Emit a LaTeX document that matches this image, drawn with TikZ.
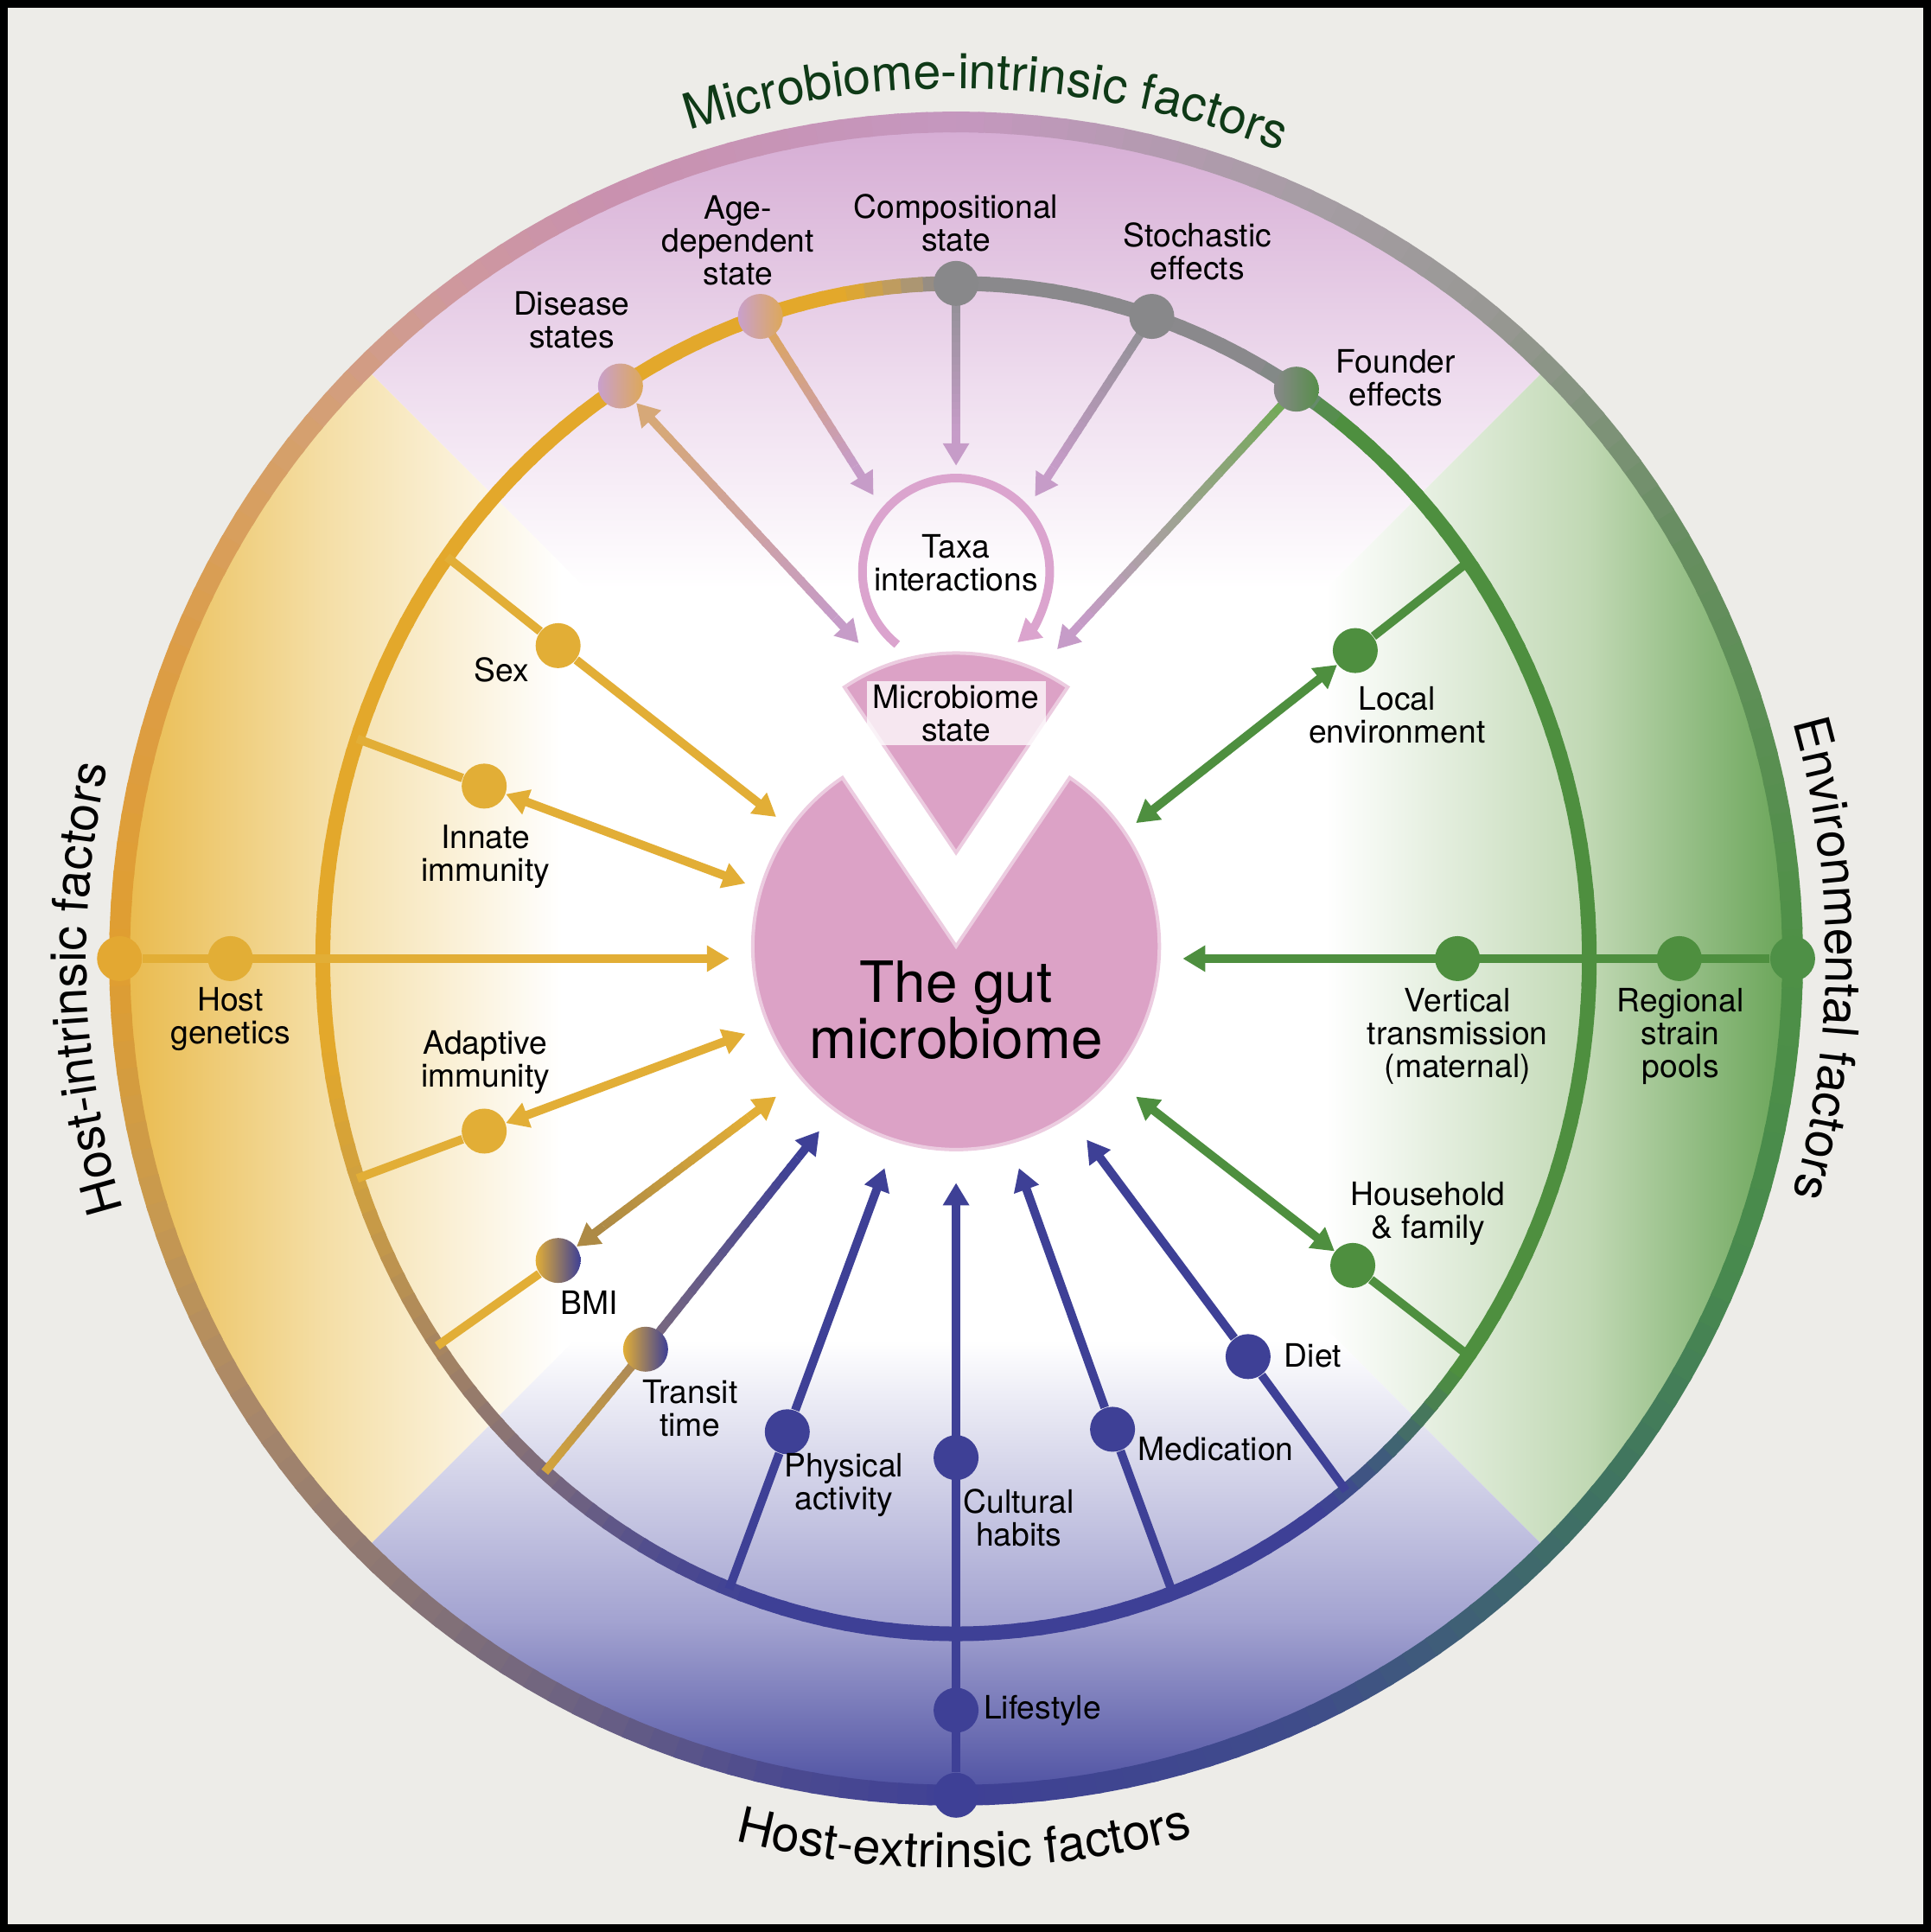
\documentclass[tikz,border=0pt]{standalone}
\usepackage{fontspec}
\setmainfont{TeX Gyre Heros}
\usepackage{tikz}
\usetikzlibrary{arrows.meta}
\usetikzlibrary{calc}
\usetikzlibrary{decorations.text}

% page and factor colours
\definecolor{bgc}{HTML}{EDECE8}
\definecolor{ylw}{HTML}{E2AE36}
\definecolor{ylwO}{HTML}{E3A832}
\definecolor{blu}{HTML}{3E4096}
\definecolor{grn}{HTML}{4E8F3F}
\definecolor{gry}{HTML}{88888A}
\definecolor{pnk}{HTML}{DCA2C6}
\definecolor{taxa}{HTML}{DBA4CE}
\definecolor{mauve}{HTML}{C69CC8}
\definecolor{ttlgrn}{HTML}{0F3A17}
% spoke blends
\definecolor{orng}{HTML}{DFA652}
\definecolor{dsA}{HTML}{D6A878}
\definecolor{gryln}{HTML}{8C8F90}
\definecolor{fgrn}{HTML}{6CAA4E}
\definecolor{bmiBrn}{HTML}{AD8A45}
\definecolor{trGold}{HTML}{D3A43C}
\definecolor{trBrn}{HTML}{A8865A}
\definecolor{trMv}{HTML}{7E6C7E}
\definecolor{dotPk}{HTML}{C9A0CC}
\definecolor{dotOr}{HTML}{DDA85A}
% background quarters
\definecolor{topA}{HTML}{D4A9D2}
\definecolor{topB}{HTML}{EEDCEE}
\definecolor{lftA}{HTML}{E8B745}
\definecolor{lftB}{HTML}{F4DDA2}
\definecolor{rgtA}{HTML}{62A050}
\definecolor{rgtB}{HTML}{C0D8B3}
\definecolor{botA}{HTML}{474A9E}
\definecolor{botB}{HTML}{A2A2D0}
% outer ring stops
\definecolor{orA}{HTML}{4E9046}
\definecolor{orB}{HTML}{678E60}
\definecolor{orC}{HTML}{989894}
\definecolor{orD}{HTML}{A69DA4}
\definecolor{orE}{HTML}{C597BF}
\definecolor{orF}{HTML}{C991AE}
\definecolor{orG}{HTML}{CF999C}
\definecolor{orH}{HTML}{D5A06C}
\definecolor{orI}{HTML}{DC9D45}
\definecolor{orJ}{HTML}{E09E30}
\definecolor{orK}{HTML}{C99A4E}
\definecolor{orL}{HTML}{A8876A}
\definecolor{orM}{HTML}{8B7674}
\definecolor{orN}{HTML}{6C6282}
\definecolor{orO}{HTML}{4B4A90}
\definecolor{orP}{HTML}{3F4095}
\definecolor{orQ}{HTML}{3F4C8A}
\definecolor{orR}{HTML}{3F7064}
\definecolor{orS}{HTML}{488A4E}
% inner ring stops
\definecolor{irBlu}{HTML}{3E4096}
\definecolor{irTeal}{HTML}{3F5F78}
\definecolor{irGrn}{HTML}{4E8F3F}
\definecolor{irFnd}{HTML}{6E887A}
\definecolor{irGry}{HTML}{8A898C}
\definecolor{irTan}{HTML}{B89A6A}
\definecolor{irYlw}{HTML}{E3A82B}
\definecolor{irGold}{HTML}{CFA040}
\definecolor{irBrn}{HTML}{AA875E}
\definecolor{irMauve}{HTML}{7D6B7C}
\definecolor{irInd}{HTML}{4F4C8E}

\newcommand{\lblfont}{\fontsize{10.6}{10.8}\selectfont}
\newcommand{\gutfont}{\fontsize{18.7}{18.6}\selectfont}
\newcommand{\sidefont}{\fontsize{16.3}{18}\selectfont}

\tikzset{
  fdot/.style={circle, minimum size=5.2mm, inner sep=0pt},
  lbl/.style={align=center, font=\lblfont, inner sep=0pt},
  spoke/.style={line width=1mm},
  arrowend/.style={-{Triangle[length=2.6mm, width=2.9mm]}},
  arrowboth/.style={{Triangle[length=2.6mm, width=2.9mm]}-{Triangle[length=2.6mm, width=2.9mm]}},
}

\pgfdeclarelayer{back}
\pgfdeclarelayer{spokes}
\pgfsetlayers{back,spokes,main}

% ring as short arcs, colour blended from #5 to #6
\newcommand{\ringfade}[6]{%
  \pgfmathtruncatemacro{\nseg}{max(1,round(abs((#4)-(#3))/2))}%
  \foreach \k in {1,...,\nseg}{%
    \pgfmathsetmacro{\angA}{(#3)+((#4)-(#3))*(\k-1)/\nseg}%
    \pgfmathsetmacro{\angB}{(#3)+((#4)-(#3))*\k/\nseg+0.4}%
    \pgfmathtruncatemacro{\mixp}{100-100*(\k-0.5)/\nseg}%
    \draw[color=#5!\mixp!#6] (\angA:#1 and #2) arc[start angle=\angA, end angle=\angB, x radius=#1, y radius=#2];
  }}

% straight spoke, colour blended from #3 to #4
\newcommand{\fadeline}[4]{%
  \foreach \k in {1,...,20}{%
    \pgfmathsetmacro{\posA}{(\k-1)/20}%
    \pgfmathsetmacro{\posB}{min(1,\k/20+0.012)}%
    \pgfmathtruncatemacro{\mixp}{100-5*\k+2.5}%
    \draw[spoke, color=#3!\mixp!#4] ($#1!\posA!#2$) -- ($#1!\posB!#2$);
  }}

\begin{document}
\begin{tikzpicture}[x=0.1425mm, y=0.1425mm]
\useasboundingbox (-776,-790) rectangle (791,778);

\begin{pgfonlayer}{back}
  \fill[bgc] (-776,-790) rectangle (791,778);
  % coloured quarters inside the outer ring
  \begin{scope}
    \clip (0,0) circle (679);
    \fill[white] (0,0) circle (679);
    \begin{scope}
      \clip (0,0) -- (45:1000) -- (135:1000) -- cycle;
      \shade[top color=topA, bottom color=topB] (-700,469) rectangle (700,690);
      \shade[top color=topB, bottom color=white] (-700,300) rectangle (700,470);
    \end{scope}
    \begin{scope}
      \clip (0,0) -- (135:1000) -- (225:1000) -- cycle;
      \shade[left color=lftA, right color=lftB] (-690,-700) rectangle (-519,700);
      \shade[left color=lftB, right color=white] (-520,-700) rectangle (-320,700);
    \end{scope}
    \begin{scope}
      \clip (0,0) -- (-45:1000) -- (45:1000) -- cycle;
      \shade[left color=rgtB, right color=rgtA] (514,-700) rectangle (690,700);
      \shade[left color=white, right color=rgtB] (300,-700) rectangle (515,700);
    \end{scope}
    \begin{scope}
      \clip (0,0) -- (225:1000) -- (315:1000) -- cycle;
      \shade[top color=botB, bottom color=botA] (-700,-690) rectangle (700,-539);
      \shade[top color=white, bottom color=botB] (-700,-540) rectangle (700,-310);
    \end{scope}
  \end{scope}

  % outer ring
  \begin{scope}[line width=2.4mm]
    \foreach \angS/\colS/\angE/\colE in {0/orA/30/orB, 30/orB/50/orC, 50/orC/65/orD, 65/orD/90/orE,
        90/orE/115/orF, 115/orF/128/orG, 128/orG/142/orH, 142/orH/160/orI, 160/orI/180/orJ,
        180/orJ/197/orK, 197/orK/213/orL, 213/orL/228/orM, 228/orM/243/orN, 243/orN/258/orO,
        258/orO/270/orP, 270/orP/295/orQ, 295/orQ/318/orR, 318/orR/338/orS, 338/orS/360/orA}
      \ringfade{679}{679}{\angS}{\angE}{\colS}{\colE};
  \end{scope}

  % inner ring
  \begin{scope}[line width=1.7mm]
    \foreach \angS/\colS/\angE/\colE in {-55/irBlu/-47/irTeal, -47/irTeal/-38/irGrn, -38/irGrn/53/irGrn,
        53/irGrn/57.5/irFnd, 57.5/irFnd/61/irGry, 61/irGry/91/irGry, 91/irGry/95/irTan,
        95/irTan/100/irYlw, 100/irYlw/188/irYlw, 188/irYlw/200/irGold, 200/irGold/214/irBrn,
        214/irBrn/229/irMauve, 229/irMauve/242/irInd, 242/irInd/252/irBlu, 252/irBlu/305/irBlu}
      \ringfade{514}{548}{\angS}{\angE}{\colS}{\colE};
  \end{scope}
\end{pgfonlayer}

% where the spokes leave the inner ring
\coordinate (sexR) at (143.5:514 and 548);
\coordinate (innateR) at (161:514 and 548);
\coordinate (adaptR) at (199:514 and 548);
\coordinate (bmiR) at (215:514 and 548);
\coordinate (transR) at (229.5:514 and 548);
\coordinate (physR) at (249:514 and 548);
\coordinate (medR) at (290:514 and 548);
\coordinate (dietR) at (308:514 and 548);
\coordinate (houseR) at (324:514 and 548);
\coordinate (localR) at (36:514 and 548);

% arrow ends round the gut microbiome
\coordinate (disA) at (-79,256);
\coordinate (ageA) at (-67,376);
\coordinate (compA) at (0,400);
\coordinate (stochA) at (64,375);
\coordinate (founderA) at (82,251);
\coordinate (sexA) at (-146,115);
\coordinate (innateA) at (-171,61);
\coordinate (hostA) at (-184,0);
\coordinate (adaptA) at (-171,-61);
\coordinate (bmiA) at (-146,-112);
\coordinate (transA) at (-111,-140);
\coordinate (physA) at (-58,-170);
\coordinate (cultA) at (0,-182);
\coordinate (medA) at (51,-170);
\coordinate (dietA) at (106,-147);
\coordinate (localA) at (146,110);
\coordinate (vertA) at (184,0);
\coordinate (houseA) at (146,-112);

% Microbiome-intrinsic factors
\node[fdot, left color=dotPk, right color=dotOr] (disease) at (122:514 and 548) {};
\node[fdot, left color=dotPk, right color=dotOr] (age) at (108:514 and 548) {};
\node[fdot, fill=gry] (comp) at (90:514 and 548) {};
\node[fdot, fill=gry] (stoch) at (72:514 and 548) {};
\node[fdot, left color=gry, right color=grn!85!gry] (founder) at (57.5:514 and 548) {};
\node[lbl] (diseaseL) at (-312,518) {Disease\\states};
\node[lbl] (ageL) at (-177,583) {Age-\\dependent\\state};
\node[lbl] (compL) at (0,597) {Compositional\\state};
\node[lbl] (stochL) at (196,574) {Stochastic\\effects};
\node[lbl] (founderL) at (357,471) {Founder\\effects};

% Host-intrinsic factors
\node[fdot, fill=ylw] (sex) at (-323,254) {};
\node[fdot, fill=ylw] (innate) at (-383,140) {};
\node[fdot, fill=ylwO] (hostO) at (180:679) {};
\node[fdot, fill=ylw] (hostgen) at (-589,0) {};
\node[fdot, fill=ylw] (adapt) at (-383,-140) {};
\node[fdot, left color=ylw, right color=blu] (bmi) at (-323,-245) {};
\node[fdot, left color=ylw, right color=blu] (trans) at (-252,-317) {};
\node[lbl] (sexL) at (-369,234) {Sex};
\node[lbl] (innateL) at (-382,83) {Innate\\immunity};
\node[lbl] (hostgenL) at (-589,-49) {Host\\genetics};
\node[lbl] (adaptL) at (-382,-84) {Adaptive\\immunity};
\node[lbl] (bmiL) at (-298,-279) {BMI};
\node[lbl] (transL) at (-216,-365) {Transit\\time};

% Host-extrinsic factors
\node[fdot, fill=blu] (phys) at (-137,-384) {};
\node[fdot, fill=blu] (cultO) at (270:679) {};
\node[fdot, fill=blu] (life) at (0,-610) {};
\node[fdot, fill=blu] (cult) at (0,-405) {};
\node[fdot, fill=blu] (med) at (127,-382) {};
\node[fdot, fill=blu] (diet) at (237,-323) {};
\node[lbl] (physL) at (-91,-427) {Physical\\activity};
\node[lbl] (cultL) at (51,-454) {Cultural\\habits};
\node[lbl, anchor=west] (lifeL) at (22,-610) {Lifestyle};
\node[lbl, anchor=west] (medL) at (147,-398) {Medication};
\node[lbl, anchor=west] (dietL) at (266,-322) {Diet};

% Environmental factors
\node[fdot, fill=grn] (local) at (324,250) {};
\node[fdot, fill=orA] (vertO) at (0:679) {};
\node[fdot, fill=grn] (regional) at (587,0) {};
\node[fdot, fill=grn] (vertical) at (407,0) {};
\node[fdot, fill=grn] (house) at (322,-249) {};
\node[lbl] (localL) at (358,198) {Local\\environment};
\node[lbl] (verticalL) at (407,-63) {Vertical\\transmission\\(maternal)};
\node[lbl] (regionalL) at (588,-63) {Regional\\strain\\pools};
\node[lbl] (houseL) at (383,-207) {Household\\\& family};

\begin{pgfonlayer}{spokes}
  % microbiome-intrinsic spokes fade into the taxa loop colour
  \coordinate (disS) at ($(disease)!6.6mm!(disA)$);
  \coordinate (disE) at ($(disA)!4mm!(disease)$);
  \fadeline{(disS)}{(disE)}{dsA}{mauve}
  \draw[spoke, dsA, arrowend] (disS) -- (disease);
  \draw[spoke, mauve, arrowend] (disE) -- (disA);
  \coordinate (ageE) at ($(ageA)!4mm!(age)$);
  \fadeline{(age)}{(ageE)}{orng}{mauve}
  \draw[spoke, mauve, arrowend] (ageE) -- (ageA);
  \coordinate (compE) at ($(compA)!4mm!(comp)$);
  \fadeline{(comp)}{(compE)}{gryln}{mauve}
  \draw[spoke, mauve, arrowend] (compE) -- (compA);
  \coordinate (stochE) at ($(stochA)!4mm!(stoch)$);
  \fadeline{(stoch)}{(stochE)}{gryln}{mauve}
  \draw[spoke, mauve, arrowend] (stochE) -- (stochA);
  \coordinate (founderE) at ($(founderA)!4mm!(founder)$);
  \fadeline{(founder)}{(founderE)}{fgrn}{mauve}
  \draw[spoke, mauve, arrowend] (founderE) -- (founderA);

  % host-intrinsic
  \draw[spoke, ylw] (sexR) -- (sex);
  \draw[spoke, ylw, arrowend] (sex) -- (sexA);
  \draw[spoke, ylw] (innateR) -- (innate);
  \draw[spoke, ylw, arrowboth] (innate) -- (innateA);
  \draw[spoke, ylw, arrowend] (hostO) -- (hostA);
  \draw[spoke, ylw] (adaptR) -- (adapt);
  \draw[spoke, ylw, arrowboth] (adapt) -- (adaptA);
  \draw[spoke, ylw] (bmiR) -- (bmi);
  \coordinate (bmiS) at ($(bmi)!6.6mm!(bmiA)$);
  \coordinate (bmiE) at ($(bmiA)!4mm!(bmi)$);
  \fadeline{(bmiS)}{(bmiE)}{bmiBrn}{ylw}
  \draw[spoke, bmiBrn, arrowend] (bmiS) -- (bmi);
  \draw[spoke, ylw, arrowend] (bmiE) -- (bmiA);
  \fadeline{(transR)}{(trans)}{trGold}{trBrn}
  \coordinate (transE) at ($(transA)!4mm!(trans)$);
  \fadeline{(trans)}{(transE)}{trMv}{blu}
  \draw[spoke, blu, arrowend] (transE) -- (transA);

  % host-extrinsic
  \draw[spoke, blu] (physR) -- (phys);
  \draw[spoke, blu, arrowend] (phys) -- (physA);
  \draw[spoke, blu, arrowend] (cultO) -- (cultA);
  \draw[spoke, blu] (medR) -- (med);
  \draw[spoke, blu, arrowend] (med) -- (medA);
  \draw[spoke, blu] (dietR) -- (diet);
  \draw[spoke, blu, arrowend] (diet) -- (dietA);

  % environmental
  \draw[spoke, grn] (localR) -- (local);
  \draw[spoke, grn, arrowboth] (local) -- (localA);
  \draw[spoke, grn, arrowend] (vertO) -- (vertA);
  \draw[spoke, grn] (houseR) -- (house);
  \draw[spoke, grn, arrowboth] (house) -- (houseA);
\end{pgfonlayer}

% the gut microbiome, with its slice lifted out
\fill[pnk, draw=pnk!55!white, line width=0.4mm] (0,10) -- ++(124:165) arc[start angle=124, end angle=416, radius=165] -- cycle;
\fill[pnk, draw=pnk!55!white, line width=0.4mm] (0,86) -- ++(56:162) arc[start angle=56, end angle=124, radius=162] -- cycle;
\node[font=\gutfont, align=center, inner sep=0pt] (gut) at (0,-42) {The gut\\microbiome};
\node[lbl, fill=white, fill opacity=0.75, text opacity=1, minimum width=20.7mm, minimum height=7.4mm] (mstate) at (0,199) {Microbiome\\state};

% taxa interactions loop
\coordinate (loop) at (0,314);
\node[lbl] (taxaL) at (0,321) {Taxa\\interactions};
\draw[taxa, line width=1mm, arrowend] (loop) ++(231:76) arc[start angle=231, end angle=-49, radius=76];

% factor groups round the rim
\path[decorate, decoration={text along path, text align=center, text color=ttlgrn,
    text={|\sidefont|Microbiome-intrinsic factors}}] (128:706) arc[start angle=128, end angle=48, radius=706];
\path[decorate, decoration={text along path, text align=center,
    text={|\sidefont|Host-intrinsic factors}}] (222:706) arc[start angle=222, end angle=142, radius=706];
\path[decorate, decoration={text along path, text align=center,
    text={|\sidefont|Environmental factors}}] (40:706) arc[start angle=40, end angle=-40, radius=706];
\path[decorate, decoration={text along path, text align=center,
    text={|\sidefont|Host-extrinsic factors}}] (230:738) arc[start angle=230, end angle=311, radius=738];

\draw[line width=0.85mm] (-773,-787) rectangle (788,775);
\end{tikzpicture}
\end{document}
